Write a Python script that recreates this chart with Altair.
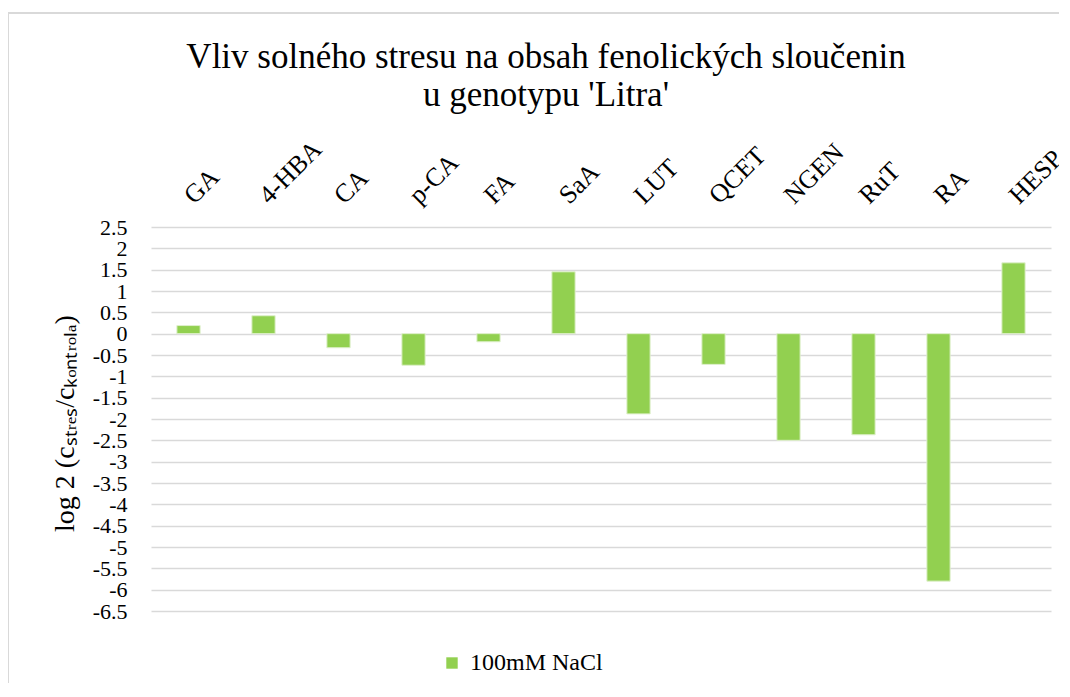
import altair as alt
import pandas as pd

categories = ["GA", "4-HBA", "CA", "p-CA", "FA", "SaA", "LUT", "QCET", "NGEN", "RuT", "RA", "HESP"]
values = [0.19, 0.42, -0.33, -0.74, -0.19, 1.45, -1.88, -0.72, -2.50, -2.37, -5.80, 1.66]
series_name = "100mM NaCl"
y_ticks = [2.5, 2, 1.5, 1, 0.5, 0, -0.5, -1, -1.5, -2, -2.5, -3, -3.5, -4, -4.5, -5, -5.5, -6, -6.5]

df = pd.DataFrame({"cat": categories, "val": values, "series": [series_name] * len(categories)})

FONT = "Liberation Serif"
W, H = 900, 384

bars = alt.Chart(df).mark_bar(stroke="#dff0cc", strokeWidth=1).encode(
    x=alt.X("cat:N", sort=categories,
            scale=alt.Scale(paddingInner=0.69, paddingOuter=0.345),
            axis=alt.Axis(orient="top", title=None, labelAngle=-45, labelAlign="left",
                          labelBaseline="middle", labelFont=FONT, labelFontSize=26,
                          labelColor="black", labelPadding=28, ticks=False, domain=False,
                          labelBound=False, labelOverlap=False, grid=False)),
    y=alt.Y("val:Q", scale=alt.Scale(domain=[-6.5, 2.5], nice=False, zero=False),
            axis=alt.Axis(values=y_ticks, title="log 2 (cₛₜᵣₑₛ/cₖₒₙₜᵣₒₗₐ)",
                          labelFont=FONT, labelFontSize=22, labelColor="black",
                          labelPadding=24, ticks=False, domain=False,
                          labelOverlap=False, labelBound=False,
                          labelExpr="datum.value",
                          titleFont=FONT, titleFontSize=28, titleFontWeight="normal",
                          titleColor="black", titleAngle=-90, titleX=-86, titleY=H / 2 + 4,
                          titleAlign="center", titleBaseline="middle",
                          gridColor="#d9d9d9", gridWidth=1.5)),
    color=alt.Color("series:N", scale=alt.Scale(range=["#92D050"]),
                    legend=alt.Legend(title=None, orient="none", legendX=289, legendY=424,
                                      symbolType="square", symbolSize=130, symbolStrokeWidth=0,
                                      labelFont=FONT, labelFontSize=24, labelColor="black",
                                      labelOffset=6)),
)

border = alt.Chart(df).mark_rect(fill=None, stroke="#d9d9d9", strokeWidth=1.5, clip=False).encode(
    x=alt.value(-143), x2=alt.value(W + 40), y=alt.value(-214), y2=alt.value(H + 100)
)

chart = alt.layer(border, bars).properties(
    width=W, height=H,
    autosize=alt.AutoSizeParams(type="none"),
    padding={"left": 143, "top": 219, "right": 8, "bottom": 72},
    title=alt.TitleParams(
        text=["Vliv solného stresu na obsah fenolických sloučenin", "u genotypu 'Litra'"],
        font=FONT, fontSize=35, fontWeight="normal", color="black",
        anchor="middle", dx=-55, lineHeight=38, offset=-101,
    ),
).configure_view(stroke=None)

chart.save("out.html", embed_options={"renderer": "svg", "actions": False})
